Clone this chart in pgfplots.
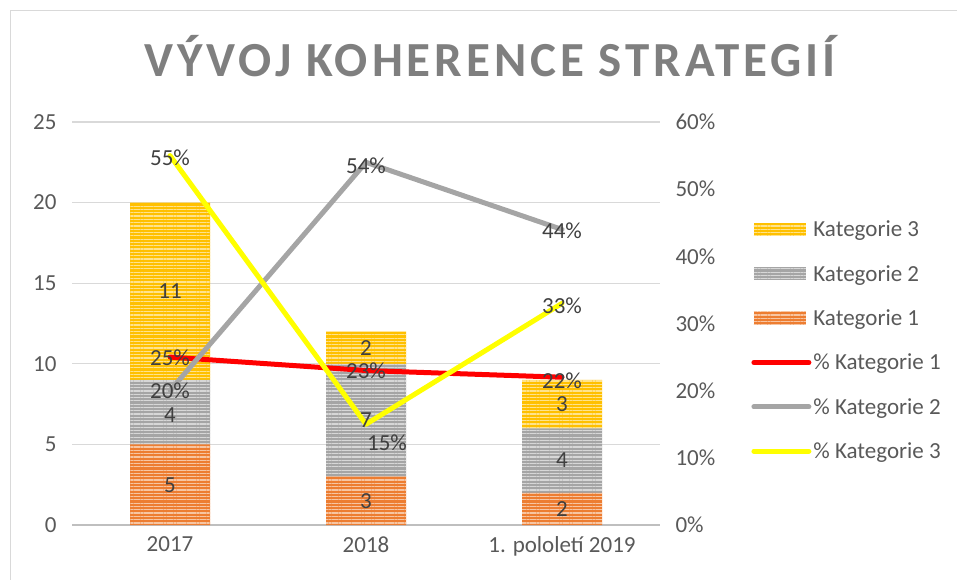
\documentclass[border=0pt]{standalone}
\usepackage{fontspec}
\setmainfont{Carlito}
\newfontfamily\titlefont[LetterSpace=8]{Carlito}
\usepackage{pgfplots}
\pgfplotsset{compat=1.18}
\usetikzlibrary{patterns.meta}
\definecolor{korange}{HTML}{ED7D31}
\definecolor{kgray}{HTML}{A5A5A5}
\definecolor{kgold}{HTML}{FFC000}
\definecolor{kred}{HTML}{FF0000}
\definecolor{kyellow}{HTML}{FFFF00}
\definecolor{gridc}{HTML}{D9D9D9}
\definecolor{axc}{HTML}{BFBFBF}
\definecolor{tickc}{HTML}{595959}
\definecolor{labc}{HTML}{404040}
\definecolor{titc}{HTML}{7F7F7F}

\pgfplotstableread{
x k1 k2 k3
0 5 4 11
1 3 7 2
2 2 4 3
}\bars

\pgfplotstableread{
x p1 p2 p3
0 25 20 55
1 23 54 15
2 22 44 33
}\lines

\pgfplotstableread{
x y l
0 2.5 5
0 6.8 4
0 14.5 11
1 1.5 3
1 6.5 7
1 11 2
2 1 2
2 4 4
2 7.5 3
}\barlabels

\pgfplotstableread{
x p dx dy
0 25 0 -1
1 23 0 0
2 22 0 -4
0 20 0 0
1 54 0 -3
2 44 0 -1
0 55 0 -2
1 15 21 -18
2 33 0 -2
}\linelabels

\tikzset{
  bar1/.style={fill=korange, draw=none, postaction={pattern={Lines[angle=0,distance=3.3pt,line width=1.2pt]}, pattern color=korange!45!white}},
  bar2/.style={fill=kgray, draw=none, postaction={pattern={Lines[angle=0,distance=3.3pt,line width=1.2pt]}, pattern color=kgray!45!white}},
  bar3/.style={fill=kgold, draw=none, postaction={pattern={Lines[angle=0,distance=3.3pt,line width=1.2pt]}, pattern color=kgold!45!white}},
}
\pgfplotsset{
  barlegend/.style={legend image code/.code={\fill[#1] (0pt,-6.5pt) rectangle (52pt,6.5pt);}},
  linelegend/.style={legend image code/.code={\draw[#1] (0pt,0pt) -- (55pt,0pt);}},
}

\newcommand\fs{\fontsize{23}{27}\selectfont}

\begin{document}
\begin{tikzpicture}[x=1pt,y=1pt]
\useasboundingbox (0,0) rectangle (957,579);
\draw[gridc, line width=1pt] (10,-20) -- (10,568) -- (990,568);

\node[anchor=base, font=\titlefont\bfseries\fontsize{49}{56}\selectfont, text=titc] at (490,502) {VÝVOJ KOHERENCE STRATEGIÍ};

% bars axis
\begin{axis}[
  at={(72pt,54pt)}, anchor=south west,
  scale only axis, width=588pt, height=403pt,
  xmin=-0.5, xmax=2.5, ymin=0, ymax=25,
  xtick={0,1,2}, xticklabels={2017,2018,1. pololetí 2019},
  ytick={0,5,10,15,20,25},
  ybar stacked, bar width=80pt,
  axis x line=bottom, axis y line=left,
  axis line style={-},
  y axis line style={draw=none},
  x axis line style={draw=axc, line width=2.2pt},
  major tick length=0pt,
  ymajorgrids, grid style={gridc, line width=1.2pt},
  tick label style={font=\fs, text=tickc},
  /pgf/number format/assume math mode=true,
  yticklabel style={xshift=-12pt},
  xticklabel style={yshift=-8pt},
]
\addplot[bar1] table[x=x,y=k1] {\bars};
\addplot[bar2] table[x=x,y=k2] {\bars};
\addplot[bar3] table[x=x,y=k3] {\bars};
\end{axis}

% lines axis
\begin{axis}[
  at={(72pt,54pt)}, anchor=south west,
  scale only axis, width=588pt, height=403pt,
  xmin=-0.5, xmax=2.5, ymin=0, ymax=60,
  ytick={0,10,20,30,40,50,60},
  yticklabel={\pgfmathprintnumber{\tick}\%},
  axis x line=none, axis y line=right,
  axis line style={draw=none},
  major tick length=0pt,
  tick label style={font=\fs, text=tickc},
  /pgf/number format/assume math mode=true,
  yticklabel style={xshift=12pt},
  legend cell align=left,
  legend style={at={(1.15,0.765)}, anchor=north west, draw=none, fill=none, font=\fs, text=tickc, row sep=23pt},
]
\addlegendimage{bar3, barlegend}
\addlegendentry{Kategorie 3}
\addlegendimage{bar2, barlegend}
\addlegendentry{Kategorie 2}
\addlegendimage{bar1, barlegend}
\addlegendentry{Kategorie 1}
\addlegendimage{kred, line width=5pt, line cap=round, linelegend}
\addlegendentry{\% Kategorie 1}
\addlegendimage{kgray, line width=5pt, line cap=round, linelegend}
\addlegendentry{\% Kategorie 2}
\addlegendimage{kyellow, line width=5pt, line cap=round, linelegend}
\addlegendentry{\% Kategorie 3}

\addplot[forget plot, kred, line width=5pt, line cap=round, line join=round, mark=none] table[x=x, y=p1] {\lines};
\addplot[forget plot, kgray, line width=5pt, line cap=round, line join=round, mark=none] table[x=x, y=p2] {\lines};
\addplot[forget plot, kyellow, line width=5pt, line cap=round, line join=round, mark=none] table[x=x, y=p3] {\lines};

% labels for lines
\addplot[forget plot, only marks, mark=none, point meta=y,
  nodes near coords={\pgfmathprintnumber{\pgfplotspointmeta}\%},
  visualization depends on={\thisrow{dx} \as \dx},
  visualization depends on={\thisrow{dy} \as \dy},
  every node near coord/.style={anchor=center, font=\fs, text=labc, xshift=\dx pt, yshift=\dy pt}]
  table[x=x, y=p] {\linelabels};
\end{axis}

% bar value labels
\begin{axis}[
  at={(72pt,54pt)}, anchor=south west,
  scale only axis, width=588pt, height=403pt,
  xmin=-0.5, xmax=2.5, ymin=0, ymax=25,
  hide axis,
]
\addplot[only marks, mark=none, nodes near coords, point meta=explicit symbolic,
  every node near coord/.style={anchor=center, font=\fs, text=labc}]
  table[x=x, y=y, meta=l] {\barlabels};
\end{axis}
\end{tikzpicture}
\end{document}
